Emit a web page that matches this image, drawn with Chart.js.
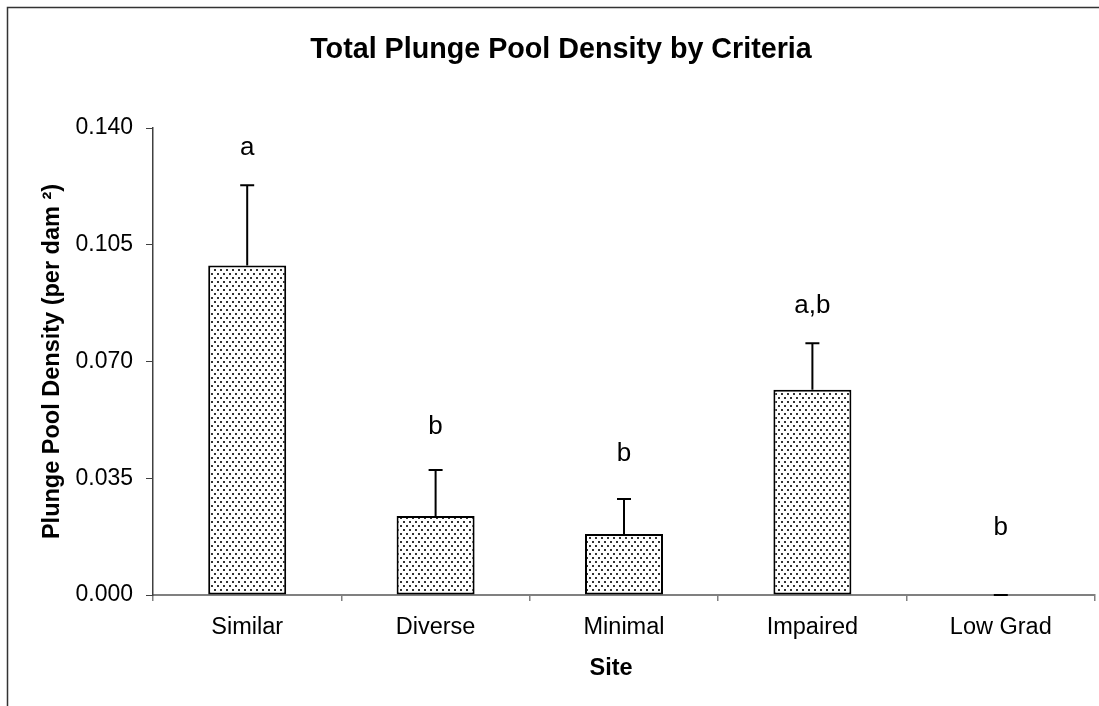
<!DOCTYPE html>
<html>
<head>
<meta charset="utf-8">
<title>Total Plunge Pool Density by Criteria</title>
<script src="https://cdn.jsdelivr.net/npm/chart.js@4"></script>
<style>
  html, body { margin: 0; padding: 0; background: #fff; }
  #chart { display: block; }
</style>
</head>
<body>
<canvas id="chart" width="1099" height="706"></canvas>
<script>
// --- data ---

const sites = ["Similar", "Diverse", "Minimal", "Impaired", "Low Grad"];
const density = [0.0988, 0.0237, 0.0183, 0.0615, 0.0];
const stdError = [0.0240, 0.0138, 0.0105, 0.0140, 0.0];
// significance groups and the level (data units) where each letter sits
const groupLetters = ["a", "b", "b", "a,b", "b"];
const letterLevel = [0.1319, 0.0483, 0.0402, 0.0845, 0.0180];
const yTicks = [0.0, 0.035, 0.07, 0.105, 0.14];

const FONT = "'Liberation Sans', Arial, Helvetica, sans-serif";

// --- dotted fill like the Excel pattern ---

function makeDotPattern(ctx) {
  const tile = document.createElement("canvas");
  tile.width = 6;
  tile.height = 8;
  const t = tile.getContext("2d");
  t.fillStyle = "#ffffff";
  t.fillRect(0, 0, 6, 8);
  t.fillStyle = "#333333";
  t.fillRect(1, 1, 2, 2);
  t.fillRect(4, 5, 2, 2);
  return ctx.createPattern(tile, "repeat");
}

// --- extra drawing: frame, titles, error bars, letters ---

const decorPlugin = {
  id: "decor",
  beforeDraw(chart) {
    const ctx = chart.ctx;
    ctx.save();
    ctx.strokeStyle = "#333333";
    ctx.lineWidth = 1.5;
    ctx.beginPath();
    ctx.moveTo(7.5, 706);
    ctx.lineTo(7.5, 7.5);
    ctx.lineTo(1099, 7.5);
    ctx.stroke();

    ctx.fillStyle = "#000";
    ctx.font = "bold 28.7px " + FONT;
    ctx.textAlign = "center";
    ctx.textBaseline = "alphabetic";
    ctx.fillText("Total Plunge Pool Density by Criteria", 561, 58);

    // x axis title sits a little left of the axis centre in the original
    ctx.font = "bold 23.5px " + FONT;
    ctx.textBaseline = "middle";
    ctx.fillText("Site", 611, 669);
    ctx.restore();
  },
  afterDatasetsDraw(chart) {
    const ctx = chart.ctx;
    const xs = chart.scales.x;
    const ys = chart.scales.y;
    ctx.save();
    ctx.strokeStyle = "#000";
    ctx.lineWidth = 2;
    density.forEach(function (v, i) {
      const x = xs.getPixelForValue(i);
      const yBase = ys.getPixelForValue(v);
      const yTop = ys.getPixelForValue(v + stdError[i]);
      ctx.beginPath();
      ctx.moveTo(x, yBase);
      ctx.lineTo(x, yTop);
      ctx.moveTo(x - 7, yTop);
      ctx.lineTo(x + 7, yTop);
      ctx.stroke();
    });

    ctx.fillStyle = "#000";
    ctx.font = "26px " + FONT;
    ctx.textAlign = "center";
    ctx.textBaseline = "alphabetic";
    groupLetters.forEach(function (txt, i) {
      ctx.fillText(txt, xs.getPixelForValue(i), ys.getPixelForValue(letterLevel[i]));
    });
    ctx.restore();
  }
};

// --- chart ---

const canvas = document.getElementById("chart");
const ctx = canvas.getContext("2d");

new Chart(ctx, {
  type: "bar",
  data: {
    labels: sites,
    datasets: [{
      data: density,
      backgroundColor: makeDotPattern(ctx),
      borderColor: "#000",
      borderWidth: 2,
      borderSkipped: false,
      categoryPercentage: 1.0,
      barPercentage: 0.414
    }]
  },
  options: {
    responsive: false,
    animation: false,
    layout: { padding: { left: 0, right: 4, top: 128, bottom: 0 } },
    plugins: {
      legend: { display: false },
      title: { display: false },
      tooltip: { enabled: false }
    },
    scales: {
      x: {
        grid: {
          drawOnChartArea: false,
          drawTicks: true,
          tickLength: 6,
          color: "#808080",
          lineWidth: 1.5
        },
        border: { color: "#808080", width: 2 },
        ticks: {
          color: "#000",
          padding: 12,
          maxRotation: 0,
          font: { family: FONT, size: 23.5 }
        },
        afterFit(scale) { scale.height = 111; }
      },
      y: {
        min: 0,
        max: 0.14,
        grid: {
          drawOnChartArea: false,
          drawTicks: true,
          tickLength: 7,
          color: "#404040"
        },
        border: { color: "#404040", width: 1.5 },
        ticks: {
          color: "#000",
          padding: 13,
          font: { family: FONT, size: 23 },
          callback: function (v) { return Number(v).toFixed(3); }
        },
        afterBuildTicks(scale) {
          scale.ticks = yTicks.map(function (v) { return { value: v }; });
        },
        title: {
          display: true,
          text: "Plunge Pool Density (per dam \u00B2)",
          color: "#000",
          padding: { top: 38, bottom: 0 },
          font: { family: FONT, size: 23.5, weight: "bold" }
        },
        afterFit(scale) { scale.width = 153; }
      }
    }
  },
  plugins: [decorPlugin]
});
</script>
</body>
</html>
